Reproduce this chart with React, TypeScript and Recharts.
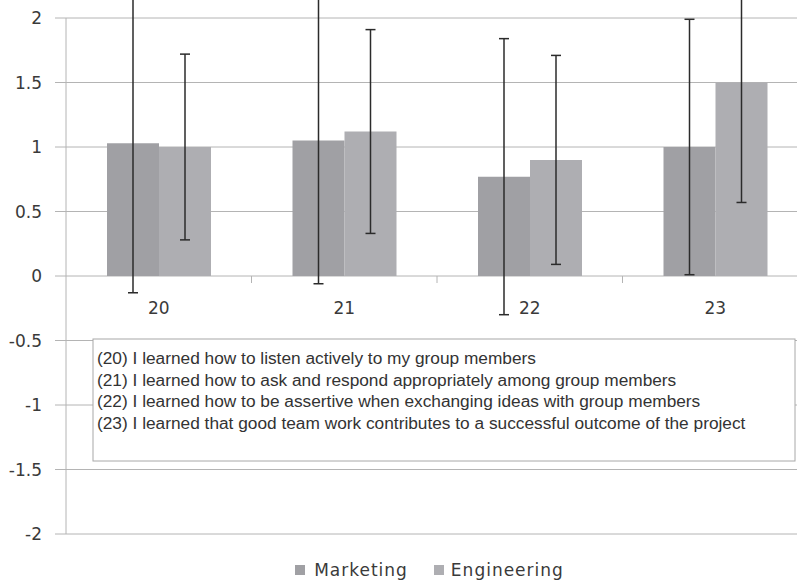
import React from 'react';
import {
    BarChart,
    Bar,
    XAxis,
    YAxis,
    CartesianGrid,
    ErrorBar,
    ReferenceDot,
    ReferenceLine,
    Legend
} from 'recharts';

const CATEGORIES = ['20', '21', '22', '23'];
const MARKETING = [1.03, 1.05, 0.77, 1.0];
const MARKETING_ERR = [1.16, 1.11, 1.07, 0.99];
const ENGINEERING = [1.0, 1.12, 0.9, 1.5];
const ENGINEERING_ERR = [0.72, 0.79, 0.81, 0.93];
const Y_TICKS = [-2, -1.5, -1, -0.5, 0, 0.5, 1, 1.5, 2];
const STATEMENTS = [
    '(20) I learned how to listen actively to my group members',
    '(21) I learned how to ask and respond appropriately among group members',
    '(22) I learned how to be assertive when exchanging ideas with group members',
    '(23) I learned that good team work contributes to a successful outcome of the project'
];

const COLORS = {
    marketing: '#a0a0a4',
    engineering: '#aeaeb2',
    grid: '#b4b4b4',
    text: '#3a3a3a',
    err: '#2b2b2b'
};

const CHART_W = 808;
const CHART_H = 582;
const Y_AXIS_W = 66;
const BAND = (CHART_W - Y_AXIS_W) / CATEGORIES.length;

const chartData = CATEGORIES.map((cat, i) => ({
    cat,
    marketing: MARKETING[i],
    marketingErr: MARKETING_ERR[i],
    engineering: ENGINEERING[i],
    engineeringErr: ENGINEERING_ERR[i]
}));

// small tick marks between categories on the zero line
const BoundaryTick = (props: any) => (
    <line
        x1={props.x1 - BAND / 2}
        x2={props.x1 - BAND / 2}
        y1={props.y1}
        y2={props.y1 + 7}
        stroke={COLORS.grid}
        strokeWidth={1}
    />
);

const LegendContent = () => (
    <div style={{ height: 48, boxSizing: 'border-box', display: 'flex', justifyContent: 'center', alignItems: 'flex-end', paddingLeft: 62, paddingBottom: 2, fontFamily: 'DejaVu Sans', fontSize: 17, letterSpacing: 1, color: COLORS.text, lineHeight: '20px' }}>
        <div style={{ display: 'flex', alignItems: 'center', marginRight: 26 }}>
            <span style={{ width: 10, height: 10, background: COLORS.marketing, marginRight: 9, display: 'inline-block' }}></span>
            <span>Marketing</span>
        </div>
        <div style={{ display: 'flex', alignItems: 'center' }}>
            <span style={{ width: 10, height: 10, background: COLORS.engineering, marginRight: 7, display: 'inline-block' }}></span>
            <span>Engineering</span>
        </div>
    </div>
);

const App: React.FC = () => {
    return (
        <div style={{ position: 'absolute', left: 0, top: 0, width: 797, height: 582, overflow: 'hidden', background: '#fff' }}>
            <BarChart
                width={CHART_W}
                height={CHART_H}
                data={chartData}
                margin={{ top: 18, right: 0, left: 0, bottom: 0 }}
                barSize={52}
                barGap={0}
            >
                <CartesianGrid vertical={false} stroke={COLORS.grid} />
                <XAxis dataKey="cat" hide />
                <YAxis
                    type="number"
                    domain={[-2, 2]}
                    ticks={Y_TICKS}
                    allowDataOverflow
                    width={Y_AXIS_W}
                    tickSize={11}
                    tickMargin={13}
                    axisLine={{ stroke: COLORS.grid }}
                    tickLine={{ stroke: COLORS.grid }}
                    tick={{ fill: COLORS.text, fontSize: 17, fontFamily: 'DejaVu Sans' }}
                    tickFormatter={(v: number) => String(v)}
                />
                <Legend verticalAlign="bottom" content={<LegendContent />} wrapperStyle={{ left: 0, width: 797 }} />
                <Bar dataKey="marketing" fill={COLORS.marketing} isAnimationActive={false}>
                    <ErrorBar dataKey="marketingErr" width={5} stroke={COLORS.err} strokeWidth={1.5} />
                </Bar>
                <Bar dataKey="engineering" fill={COLORS.engineering} isAnimationActive={false}>
                    <ErrorBar dataKey="engineeringErr" width={5} stroke={COLORS.err} strokeWidth={1.5} />
                </Bar>
                {CATEGORIES.slice(1).map((c) => (
                    <ReferenceLine key={'t' + c} segment={[{ x: c, y: 0 }, { x: c, y: 0 }]} shape={BoundaryTick} />
                ))}
                {CATEGORIES.map((c) => (
                    <ReferenceDot
                        key={'l' + c}
                        x={c}
                        y={0}
                        r={0}
                        fill="none"
                        stroke="none"
                        label={{ value: c, position: 'bottom', offset: 26, fill: COLORS.text, fontSize: 17, fontFamily: 'DejaVu Sans' }}
                    />
                ))}
            </BarChart>

            {/* statement text box placed over the lower plot area */}
            <svg width={797} height={582} style={{ position: 'absolute', left: 0, top: 0, pointerEvents: 'none' }}>
                <rect x={93} y={339} width={702} height={122} fill="#fff" stroke="#a8a8a8" strokeWidth={1} />
                {STATEMENTS.map((s, i) => (
                    <text
                        key={i}
                        x={97}
                        y={358 + i * 21.5}
                        dominantBaseline="central"
                        fontFamily="'Liberation Sans', Arial, sans-serif"
                        fontSize={17.3}
                        fill="#333"
                    >
                        {s}
                    </text>
                ))}
            </svg>
        </div>
    );
};

export default App;
